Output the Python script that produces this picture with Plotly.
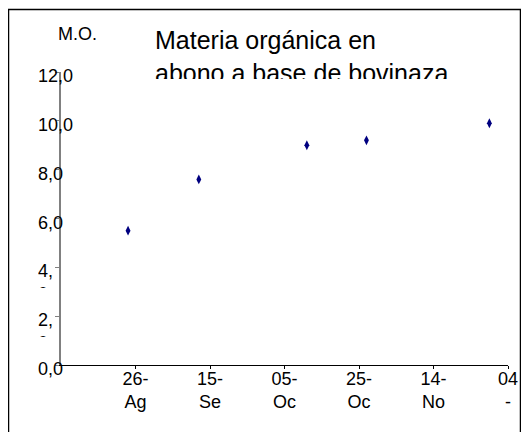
import plotly.graph_objects as go

# Muestreos de materia orgánica (M.O.) en abono de bovinaza
fechas = ['2009-08-24', '2009-09-12', '2009-10-11', '2009-10-27', '2009-11-29']
mo = [5.5, 7.6, 9.0, 9.2, 9.9]

x_tickvals = ['2009-08-26', '2009-09-15', '2009-10-05', '2009-10-25', '2009-11-14', '2009-12-04']
x_ticktext = ['26-<br>Ag', '15-<br>Se', '05-<br>Oc', '25-<br>Oc', '14-<br>No', '04<br>-']
y_tickvals = [0, 2, 4, 6, 8, 10, 12]
y_ticktext = ['0,0', '2,<br>0', '4,<br>0', '6,0', '8,0', '10,0', '12,0']

# la pagina html deja 8 px de margen en el body
OFF = 8
W, H = 529, 432
L, R, T, B = 61 - OFF, W - (508 - OFF), 72 - OFF, H - (365 - OFF)
pw, ph = W - L - R, H - T - B


def px_x(p):
    return (p - OFF - L) / pw


def px_y(p):
    return (H - B - (p - OFF)) / ph


FONT = 'Liberation Sans, Arial, sans-serif'

fig = go.Figure()
fig.add_trace(go.Scatter(
    x=fechas, y=mo, mode='markers',
    marker=dict(symbol='diamond-tall', size=7, color='#000080', line=dict(width=0)),
    showlegend=False, hoverinfo='x+y'
))

annotations = []
for v, t in zip(y_tickvals, y_ticktext):
    a = dict(
        x=px_x(36), xref='paper', y=v, yref='y', text=t,
        showarrow=False, xanchor='left', align='left',
        font=dict(family=FONT, size=18, color='black'),
    )
    if '<br>' in t:
        # etiqueta cortada como en Excel: solo asoma la parte alta de la 2a linea
        a.update(yanchor='top', valign='top', height=27, yshift=8)
    else:
        a.update(yanchor='middle', yshift=-4)
    annotations.append(a)

annotations.append(dict(
    x=px_x(77), xref='paper', y=px_y(34), yref='paper', text='M.O.',
    showarrow=False, xanchor='center', yanchor='middle',
    font=dict(family=FONT, size=18, color='black')
))
annotations.append(dict(
    x=px_x(153), xref='paper', y=px_y(24), yref='paper',
    text='Materia orgánica en<br>abono a base de bovinaza',
    showarrow=False, xanchor='left', yanchor='top', align='left', valign='top',
    height=53, font=dict(family=FONT, size=25, color='black')
))

marco = dict(color='black', width=1.5)
fig.update_layout(
    width=W, height=H,
    margin=dict(l=L, r=R, t=T, b=B),
    paper_bgcolor='white', plot_bgcolor='white',
    annotations=annotations,
    shapes=[
        dict(type='rect', xref='paper', yref='paper',
             x0=px_x(8.5), x1=px_x(520.5), y0=-0.3, y1=px_y(9.5),
             line=marco, fillcolor='rgba(0,0,0,0)', layer='above'),
    ],
    xaxis=dict(
        type='date', range=['2009-08-06', '2009-12-04'], automargin=False,
        tickvals=x_tickvals, ticktext=x_ticktext,
        showline=True, linecolor='black', linewidth=1,
        ticks='outside', ticklen=3, tickcolor='black', ticklabelstandoff=-6,
        showgrid=False, zeroline=False,
        tickfont=dict(family=FONT, size=18, color='black'),
    ),
    yaxis=dict(
        range=[0, 12], tickvals=y_tickvals, showticklabels=False, automargin=False,
        showline=True, linecolor='#808080', linewidth=1.5,
        ticks='outside', ticklen=4, tickcolor='#808080',
        showgrid=False, zeroline=False,
    ),
)

fig.write_html('out.html')
